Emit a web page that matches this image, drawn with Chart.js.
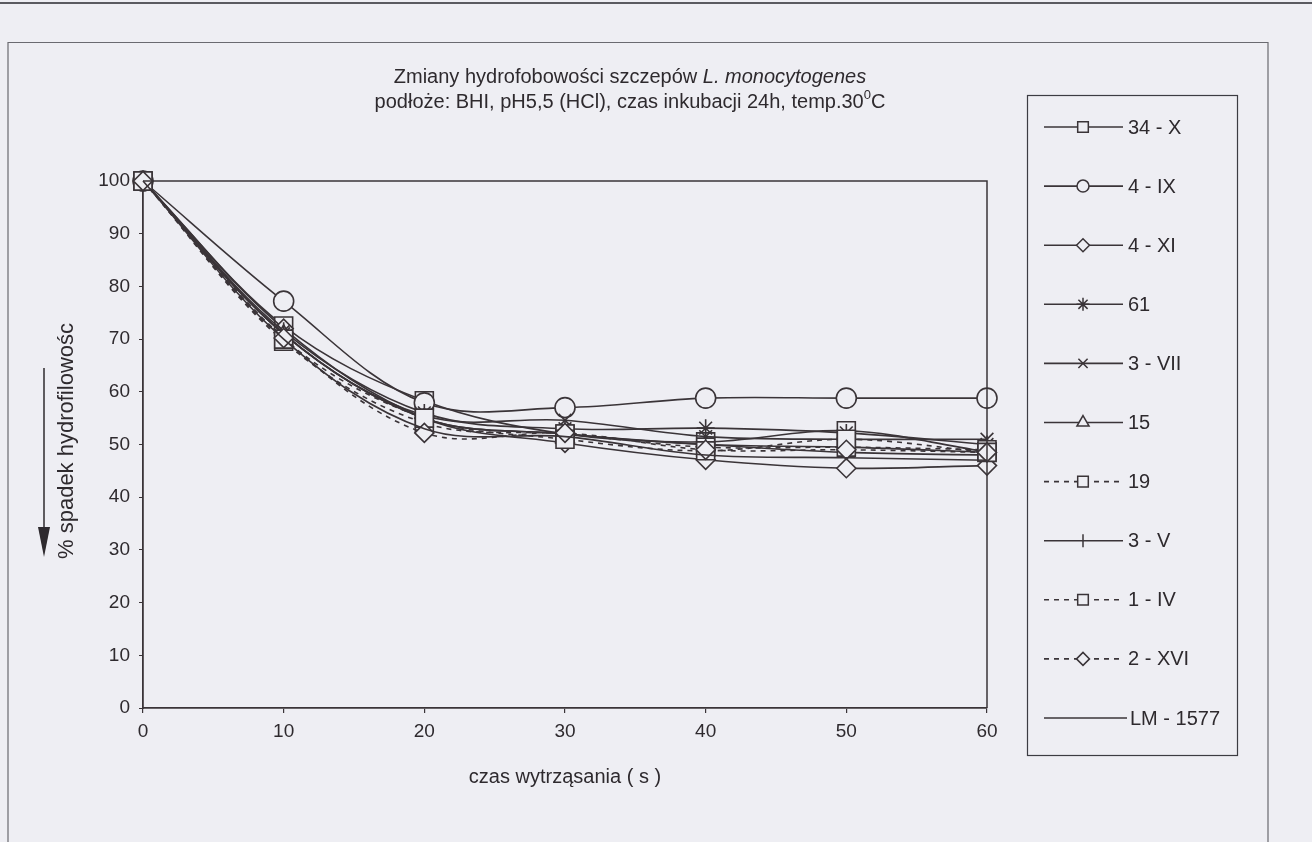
<!DOCTYPE html>
<html>
<head>
<meta charset="utf-8">
<script src="https://cdn.jsdelivr.net/npm/chart.js@4"></script>
<style>
  html, body { margin: 0; padding: 0; background: #eeeef3; }
  #wrap { width: 1312px; height: 842px; position: relative; }
</style>
</head>
<body>
<div id="wrap"><canvas id="c" width="1312" height="842"></canvas></div>
<script>
// Shaking time (s)
const times = [0, 10, 20, 30, 40, 50, 60];
const yTicks = [0, 10, 20, 30, 40, 50, 60, 70, 80, 90, 100];

// Strain names, in legend order
const strains = ['34 - X', '4 - IX', '4 - XI', '61', '3 - VII', '15', '19', '3 - V', '1 - IV', '2 - XVI', 'LM - 1577'];

// % decrease in hydrophilicity per strain
const s34X   = [100, 72.5, 58.3, 52.0, 50.5, 52.6, 48.6];
const s4IX   = [100, 77.2, 57.9, 57.0, 58.8, 58.8, 58.8];
const s4XI   = [100, 72.0, 55.0, 50.3, 47.1, 45.5, 46.0];
const s61    = [100, 71.5, 56.0, 53.0, 53.1, 52.2, 50.0];
const s3VII  = [100, 71.0, 55.5, 54.6, 51.5, 51.0, 51.0];
const s15    = [100, 71.0, 55.0, 52.0, 50.0, 48.5, 48.0];
const s19    = [100, 69.6, 54.1, 52.0, 49.5, 49.5, 49.0];
const s3V    = [100, 71.0, 55.0, 52.0, 50.0, 49.5, 48.5];
const s1IV   = [100, 70.0, 55.0, 51.0, 48.8, 51.0, 48.5];
const s2XVI  = [100, 70.2, 52.2, 52.2, 49.0, 49.0, 48.5];
const sLM    = [100, 70.0, 53.0, 51.5, 48.0, 47.5, 47.0];

const seriesValues = [s34X, s4IX, s4XI, s61, s3VII, s15, s19, s3V, s1IV, s2XVI, sLM];

const INK = '#3a3438';
const TEXT = '#2e2a2e';
const BG = '#eeeef3';
const FONT = "'Liberation Sans', Arial, sans-serif";

// marker style per strain: [pointStyle, plot radius, legend radius, rotation, dashed]
const markers = [
  ['rect', 12.7, 7.5, 0, false],
  ['circle', 10, 6, 0, false],
  ['rectRot', 9.5, 6.5, 0, false],
  ['star', 9, 6.5, 0, false],
  ['crossRot', 9, 6.5, 0, false],
  ['triangle', 9, 7, 0, false],
  ['rect', 12.7, 7.5, 0, true],
  ['line', 9, 6.5, 90, false],
  ['rect', 12.7, 7.5, 0, true],
  ['rectRot', 9.5, 6.5, 0, true],
  [false, 0, 0, 0, false]
];

const datasets = strains.map((name, i) => {
  const m = markers[i];
  return {
    label: name,
    data: times.map((t, k) => ({ x: t, y: seriesValues[i][k] })),
    order: strains.length - i,   // later strains are painted on top
    borderColor: INK,
    borderWidth: 1.6,
    borderDash: m[4] ? [5, 5] : [],
    pointStyle: m[0] || 'circle',
    pointRadius: m[0] ? m[1] : 0,
    pointHoverRadius: m[0] ? m[1] : 0,
    pointRotation: m[3],
    pointBorderColor: INK,
    pointBorderWidth: 1.6,
    pointBackgroundColor: BG,
    tension: 0.35,
    clip: false,
    fill: false
  };
});

function drawMarker(ctx, style, r, rot, x, y) {
  if (!style) return;
  Chart.helpers.drawPoint(ctx, { pointStyle: style, radius: r, rotation: rot, borderWidth: 1.5 }, x, y);
}

const decor = {
  id: 'decor',
  beforeDraw(chart) {
    const ctx = chart.ctx;
    ctx.save();
    ctx.fillStyle = BG;
    ctx.fillRect(0, 0, chart.width, chart.height);
    // page edge and outer frame
    ctx.strokeStyle = '#5a5a60';
    ctx.lineWidth = 2;
    ctx.beginPath();
    ctx.moveTo(0, 3); ctx.lineTo(1312, 3);
    ctx.stroke();
    ctx.strokeStyle = '#6a6a70';
    ctx.lineWidth = 1.2;
    ctx.beginPath();
    ctx.moveTo(8, 842); ctx.lineTo(8, 42.5); ctx.lineTo(1268, 42.5); ctx.lineTo(1268, 842);
    ctx.stroke();
    ctx.restore();
  },
  afterDraw(chart) {
    const ctx = chart.ctx;
    const a = chart.chartArea;
    ctx.save();
    // plot frame (top and right)
    ctx.strokeStyle = INK;
    ctx.lineWidth = 1.5;
    ctx.beginPath();
    ctx.moveTo(a.left, a.top); ctx.lineTo(a.right, a.top); ctx.lineTo(a.right, a.bottom);
    ctx.stroke();

    // title, two lines
    ctx.fillStyle = TEXT;
    ctx.textBaseline = 'middle';
    ctx.textAlign = 'left';
    const tx = 630;
    const t1a = 'Zmiany hydrofobowości szczepów ';
    const t1b = 'L. monocytogenes';
    ctx.font = '20px ' + FONT;
    const w1a = ctx.measureText(t1a).width;
    ctx.font = 'italic 20px ' + FONT;
    const w1b = ctx.measureText(t1b).width;
    let x0 = tx - (w1a + w1b) / 2;
    ctx.font = '20px ' + FONT;
    ctx.fillText(t1a, x0, 77);
    ctx.font = 'italic 20px ' + FONT;
    ctx.fillText(t1b, x0 + w1a, 77);

    const t2a = 'podłoże: BHI, pH5,5 (HCl), czas inkubacji 24h, temp.30';
    const t2b = '0';
    const t2c = 'C';
    ctx.font = '20px ' + FONT;
    const w2a = ctx.measureText(t2a).width;
    const w2c = ctx.measureText(t2c).width;
    ctx.font = '13px ' + FONT;
    const w2b = ctx.measureText(t2b).width;
    x0 = tx - (w2a + w2b + w2c) / 2;
    ctx.font = '20px ' + FONT;
    ctx.fillText(t2a, x0, 102);
    ctx.font = '13px ' + FONT;
    ctx.fillText(t2b, x0 + w2a, 95);
    ctx.font = '20px ' + FONT;
    ctx.fillText(t2c, x0 + w2a + w2b, 102);

    // axis titles
    ctx.textAlign = 'center';
    ctx.font = '20px ' + FONT;
    ctx.fillText('czas wytrząsania ( s )', (a.left + a.right) / 2, 777);
    ctx.save();
    ctx.translate(67, 441);
    ctx.rotate(-Math.PI / 2);
    ctx.font = '22px ' + FONT;
    ctx.fillText('% spadek hydrofilowośc', 0, 0);
    ctx.restore();

    // downward arrow beside the y title
    ctx.strokeStyle = TEXT;
    ctx.lineWidth = 1.5;
    ctx.beginPath();
    ctx.moveTo(44, 368); ctx.lineTo(44, 530);
    ctx.stroke();
    ctx.fillStyle = TEXT;
    ctx.beginPath();
    ctx.moveTo(38, 527); ctx.lineTo(50, 527); ctx.lineTo(44, 557); ctx.closePath();
    ctx.fill();

    // legend box
    ctx.strokeStyle = '#3c3c42';
    ctx.lineWidth = 1.2;
    ctx.strokeRect(1027.5, 95.5, 210, 660);
    ctx.font = '20px ' + FONT;
    ctx.textAlign = 'left';
    ctx.textBaseline = 'middle';
    strains.forEach((name, i) => {
      const m = markers[i];
      const y = 127 + i * 59.1;
      ctx.strokeStyle = INK;
      ctx.lineWidth = 1.6;
      ctx.setLineDash(m[4] ? [5, 5] : []);
      ctx.beginPath();
      ctx.moveTo(1044, y); ctx.lineTo(m[0] ? 1123 : 1127, y);
      ctx.stroke();
      ctx.setLineDash([]);
      ctx.fillStyle = BG;
      ctx.strokeStyle = INK;
      ctx.lineWidth = 1.5;
      drawMarker(ctx, m[0], m[2], m[3], 1083, y);
      ctx.fillStyle = TEXT;
      ctx.fillText(name, m[0] ? 1128 : 1130, y + 1);
    });
    ctx.restore();
  }
};

new Chart(document.getElementById('c'), {
  type: 'line',
  data: { datasets },
  options: {
    responsive: false,
    animation: false,
    events: [],
    layout: { padding: { left: 0, right: 325, top: 181, bottom: 74 } },
    plugins: { legend: { display: false }, title: { display: false }, tooltip: { enabled: false } },
    scales: {
      x: {
        type: 'linear',
        min: 0, max: 60,
        afterBuildTicks(scale) { scale.ticks = times.map(v => ({ value: v })); },
        afterFit(scale) { scale.height = 60; },
        grid: { drawOnChartArea: false, drawTicks: true, tickLength: 5, color: INK, lineWidth: 1.2 },
        border: { display: true, color: INK, width: 1.8 },
        ticks: { color: TEXT, font: { family: FONT, size: 19 }, padding: 7, maxRotation: 0 }
      },
      y: {
        min: 0, max: 100,
        afterBuildTicks(scale) { scale.ticks = yTicks.map(v => ({ value: v })); },
        afterFit(scale) { scale.width = 143; },
        grid: { drawOnChartArea: false, drawTicks: true, tickLength: 4, color: INK, lineWidth: 1 },
        border: { display: true, color: INK, width: 1.8 },
        ticks: { color: TEXT, font: { family: FONT, size: 19 }, padding: 9 }
      }
    }
  },
  plugins: [decor]
});
</script>
</body>
</html>
